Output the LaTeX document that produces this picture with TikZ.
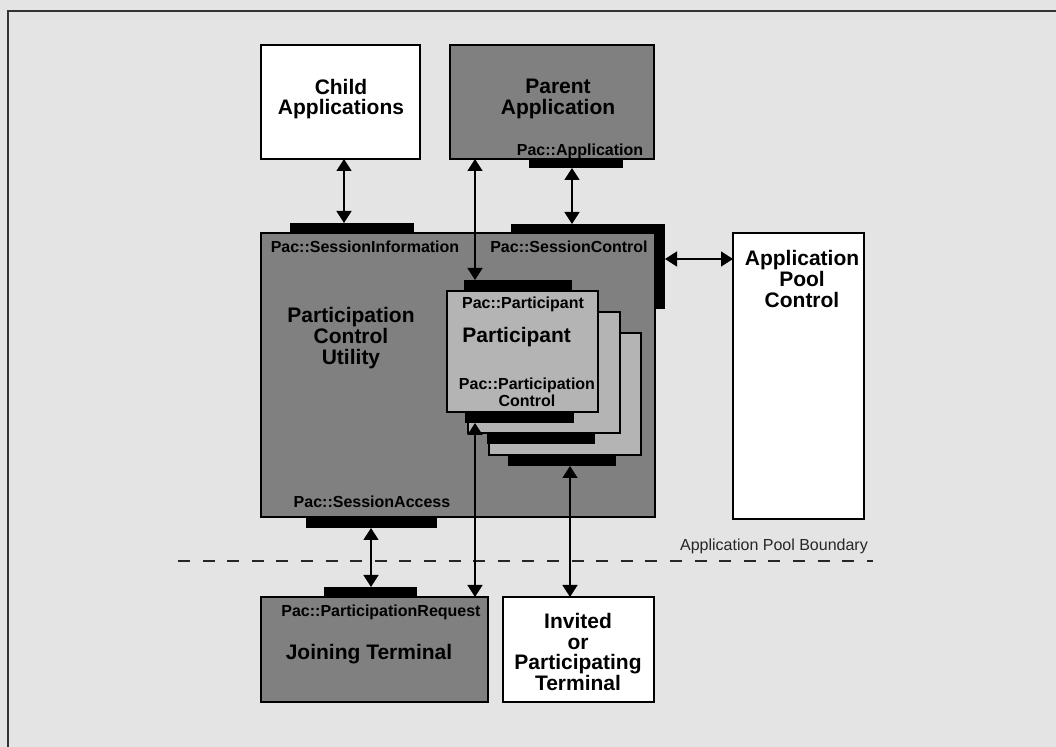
\documentclass[tikz,border=0pt]{standalone}
\usepackage{fontspec}
\setmainfont{Liberation Sans}
\usetikzlibrary{arrows.meta}
\definecolor{paper}{HTML}{E4E4E4}
\definecolor{midgray}{HTML}{808080}
\definecolor{lightgray}{HTML}{B4B4B4}

% rectangle node from its top-left and bottom-right corners (in px units)
\newcommand\pxrect[6]{%
  \node[#1, minimum width={(#5-#3)*0.5pt}, minimum height={(#6-#4)*0.5pt}] (#2) at (#3,#4) {};}

\begin{document}
\begin{tikzpicture}[x=0.5pt,y=-0.5pt,
  box/.style={draw=black, line width=0.6pt, inner sep=0pt, outer sep=0pt, anchor=north west},
  whitebox/.style={box, fill=white},
  darkbox/.style={box, fill=midgray},
  lightbox/.style={box, fill=lightgray},
  port/.style={fill=black, inner sep=0pt, outer sep=0pt, anchor=north west},
  big/.style={font=\bfseries\fontsize{10.5}{10.3}\selectfont, align=center, inner sep=0pt},
  small/.style={font=\bfseries\fontsize{8}{8.3}\selectfont, align=center, inner sep=0pt},
  note/.style={font=\fontsize{8}{9}\selectfont, inner sep=0pt, text=black!85},
  link/.style={line width=0.75pt, {Triangle[length=6pt,width=7.5pt]}-{Triangle[length=6pt,width=7.5pt]}},
  boundary/.style={line width=0.6pt, dash pattern=on 6pt off 6.3pt, draw=black!85}
]
\useasboundingbox (0,0) rectangle (1056,747);
\fill[paper] (0,0) rectangle (1056,747);
\draw[line width=1pt, draw=black!80] (8,747) -- (8,11) -- (1056,11);

% applications above the utility
\pxrect{whitebox}{child}{261}{45}{420}{159}
\pxrect{darkbox}{parent}{450}{45}{654}{159}
\pxrect{port}{paport}{529}{159}{623}{168}

% participation control utility
\pxrect{darkbox}{pcu}{261}{233}{655}{517}
\pxrect{port}{ciport}{290}{223}{414}{233}
\pxrect{port}{scport}{511}{224}{665}{233}
\pxrect{port}{scside}{655}{224}{665}{309}
\pxrect{port}{saport}{306}{517}{437}{528}

% application pool control
\pxrect{whitebox}{apc}{733}{233}{864}{519}

% stacked participants, back to front
\pxrect{lightbox}{part3}{489}{333}{641}{455}
\pxrect{port}{pcport3}{508}{456}{616}{466}
\pxrect{lightbox}{part2}{468}{312}{620}{433}
\pxrect{port}{pcport2}{487}{434}{595}{444}
\pxrect{lightbox}{part1}{447}{291}{598}{412}
\pxrect{port}{pcport1}{465}{412}{574}{423}
\pxrect{port}{ppport}{464}{280}{572}{291}

% terminals
\pxrect{darkbox}{joining}{261}{597}{488}{702}
\pxrect{port}{jrport}{324}{587}{417}{597}
\pxrect{whitebox}{invited}{503}{597}{654}{702}

% labels
\node[big] (childlbl) at (341,99) {Child\\Applications};
\node[big] (parentlbl) at (558,99) {Parent\\Application};
\node[small] (palbl) at (580,151) {Pac::Application};
\node[small] (silbl) at (365,247) {Pac::SessionInformation};
\node[small] (sclbl) at (569,247) {Pac::SessionControl};
\node[big] (pculbl) at (351,338) {Participation\\Control\\Utility};
\node[big] (apclbl) at (802,279) {Application\\Pool\\Control};
\node[small] (pplbl) at (523,304) {Pac::Participant};
\node[big, anchor=west] (partlbl) at (462,337) {Participant};
\node[small] (pclbl) at (527,392) {Pac::Participation\\Control};
\node[small] (salbl) at (372,502) {Pac::SessionAccess};
\node[small] (prlbl) at (381,612) {Pac::ParticipationRequest};
\node[big] (jtlbl) at (369,654) {Joining Terminal};
\node[big] (itlbl) at (578,652) {Invited\\or\\Participating\\Terminal};
\node[note] (bndlbl) at (774,546) {Application Pool Boundary};

% application pool boundary
\coordinate (bndL) at (178,561);
\coordinate (bndR) at (873,561);
\draw[boundary] (bndL) -- (bndR);

% connector lanes
\coordinate (laneA) at (344,0);
\coordinate (laneB) at (572,0);
\coordinate (laneC) at (475,0);
\coordinate (laneD) at (0,259);
\coordinate (laneE) at (371,0);
\coordinate (laneF) at (570,0);

% connectors
\draw[link] (child.south -| laneA) -- (ciport.north -| laneA);
\draw[link] (paport.south -| laneB) -- (scport.north -| laneB);
\draw[link] (parent.south -| laneC) -- (ppport.north -| laneC);
\draw[link] (scside.east |- laneD) -- (apc.west |- laneD);
\draw[link] (saport.south -| laneE) -- (jrport.north -| laneE);
\draw[link] (pcport1.south -| laneC) -- (joining.north -| laneC);
\draw[link] (pcport3.south -| laneF) -- (invited.north -| laneF);
\end{tikzpicture}
\end{document}
